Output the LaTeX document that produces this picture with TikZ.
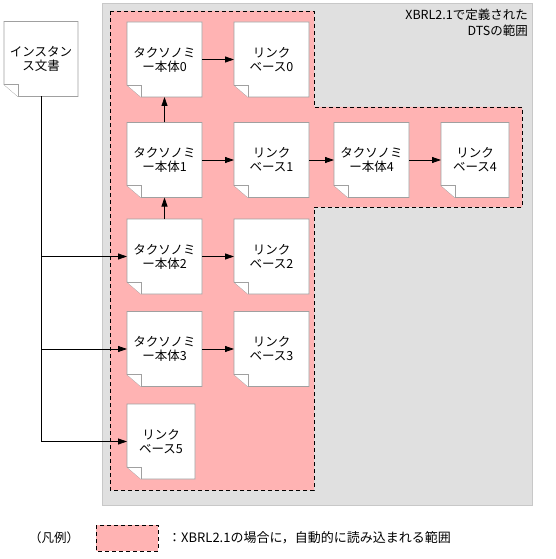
\documentclass[tikz,border=0pt]{standalone}
\usepackage{fontspec}
\setmainfont{Noto Sans CJK JP}
\usepackage{tikz}
\usetikzlibrary{arrows.meta, positioning, backgrounds}
\definecolor{dtsGray}{HTML}{E0E0E0}
\definecolor{dtsEdge}{HTML}{C8C8C8}
\definecolor{autoPink}{HTML}{FFB3B3}
\definecolor{docEdge}{HTML}{A0A0A0}
\tikzset{
  arrowK/.style={-{Triangle[length=9pt, width=6pt]}, black, line width=0.8pt},
  docBox/.style={rectangle, inner sep=0pt, outer sep=0pt, align=center,
                 minimum width=75pt, minimum height=75pt,
                 font=\fontsize{12.5}{14}\selectfont},
  docLine/.style={draw=docEdge, fill=white, line width=0.8pt},
  autoArea/.style={fill=autoPink, draw=black, line width=0.8pt,
                   dash pattern=on 4pt off 3pt},
}

\begin{document}
\begin{tikzpicture}[x=1pt, y=-1pt, node distance=32pt]
        \useasboundingbox (0,0) rectangle (555,559);
        % documents
        \node[docBox, minimum width=74pt] (inst) at (41,59) {インスタン\\ス文書};
        \node[docBox] (tax0) at (164.5,59.5) {タクソノミ\\ー本体0};
        \node[docBox] (tax1) at (164.5,160) {タクソノミ\\ー本体1};
        \node[docBox] (tax2) at (164.5,256.5) {タクソノミ\\ー本体2};
        \node[docBox] (tax3) at (164.5,349) {タクソノミ\\ー本体3};
        \node[docBox, minimum width=68pt, anchor=north west] (link5) at (127,404) {リンク\\ベース5};
        \node[docBox, right=of tax0] (link0) {リンク\\ベース0};
        \node[docBox, right=of tax1] (link1) {リンク\\ベース1};
        \node[docBox, right=of tax2] (link2) {リンク\\ベース2};
        \node[docBox, right=of tax3] (link3) {リンク\\ベース3};
        \node[docBox, right=25pt of link1] (tax4) {タクソノミ\\ー本体4};
        \node[docBox, minimum width=68pt, right=of tax4] (link4) {リンク\\ベース4};
        % areas and sheets
        \begin{scope}[on background layer]
          \draw[fill=dtsGray, draw=dtsEdge, line width=0.8pt] (102,3) rectangle (532,505);
          \draw[autoArea] (110,11) -- (314,11) -- (314,107) -- (522,107) -- (522,207)
            -- (314,207) -- (314,490) -- (110,490) -- cycle;
          \foreach \n in {inst,tax0,tax1,tax2,tax3,tax4,link0,link1,link2,link3,link4,link5} {
            \draw[docLine] (\n.north west) -- (\n.north east) -- (\n.south east)
              -- ([xshift=14pt]\n.south west) -- ([yshift=12pt]\n.south west) -- cycle;
            \draw[docLine] ([yshift=12pt]\n.south west) -- ([shift={(14pt,12pt)}]\n.south west)
              -- ([xshift=14pt]\n.south west);
          }
        \end{scope}
        \node[anchor=north east, align=right, inner sep=0pt,
              font=\fontsize{12.5}{16}\selectfont] (dts) at (528,9) {XBRL2.1で定義された\\DTSの範囲};
        % links
        \draw[arrowK] (tax0) -- (link0);
        \draw[arrowK] (tax1) -- (link1);
        \draw[arrowK] (link1) -- (tax4);
        \draw[arrowK] (tax4) -- (link4);
        \draw[arrowK] (tax2) -- (link2);
        \draw[arrowK] (tax3) -- (link3);
        \draw[arrowK] (tax1) -- (tax0);
        \draw[arrowK] (tax2) -- (tax1);
        \coordinate (j2) at (inst.south |- tax2.west);
        \coordinate (j3) at (inst.south |- tax3.west);
        \draw[arrowK] (inst.south) |- (link5.west);
        \draw[arrowK] (j2) -- (tax2.west);
        \draw[arrowK] (j3) -- (tax3.west);
        % legend
        \node[font=\fontsize{12.5}{14}\selectfont, inner sep=0pt] (hanrei) at (54,538) {（凡例）};
        \draw[autoArea] (96,525) rectangle (158,551);
        \coordinate (keyR) at (158,538);
        \node[font=\fontsize{13}{14}\selectfont, inner sep=0pt, anchor=west] (keytxt)
              at ([xshift=10pt]keyR) {：XBRL2.1の場合に，自動的に読み込まれる範囲};
\end{tikzpicture}
\end{document}
